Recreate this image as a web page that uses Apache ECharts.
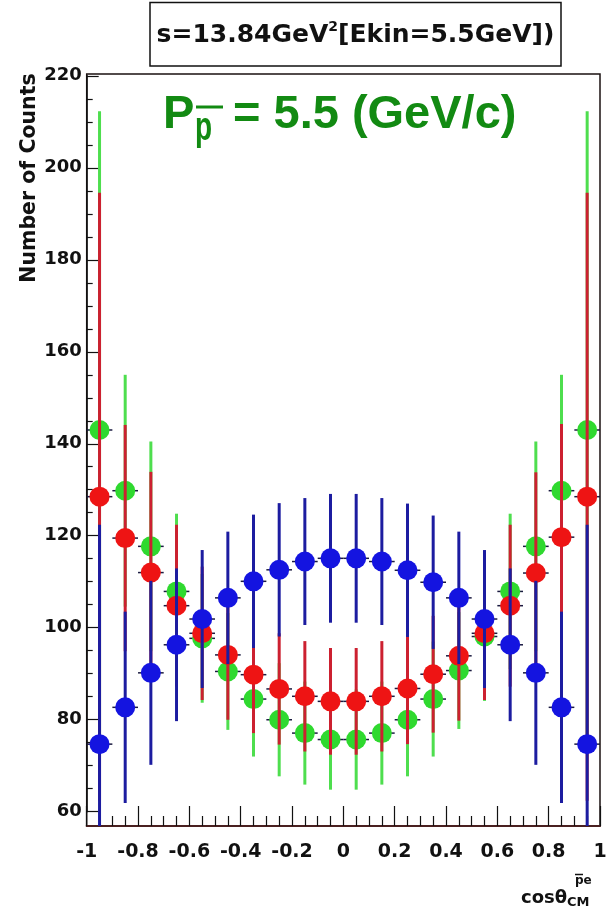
<!DOCTYPE html>
<html>
<head>
<meta charset="utf-8">
<script src="https://cdn.jsdelivr.net/npm/echarts@6/dist/echarts.min.js"></script>
<style>
html,body{margin:0;padding:0;background:#fff;}
#chart{width:610px;height:916px;}
</style>
</head>
<body>
<div id="chart"></div>
<script>
// ---- data ----
const binCenters = [-0.95,-0.85,-0.75,-0.65,-0.55,-0.45,-0.35,-0.25,-0.15,-0.05,
                     0.05, 0.15, 0.25, 0.35, 0.45, 0.55, 0.65, 0.75, 0.85, 0.95];
const greenCounts = [143.0,129.8,117.7,107.9,97.7,90.5,84.5,80.0,77.1,75.7,
                     75.7,77.1,80.0,84.5,90.7,98.1,107.9,117.7,129.8,143.0];
const greenErrors = [69.3,25.2,22.8,16.9,14.0,12.7,12.5,12.3,11.2,10.9,
                     10.9,11.2,12.3,12.5,12.7,14.0,16.9,22.8,25.2,69.3];
const redCounts   = [128.5,119.5,112.0,104.8,98.8,94.1,89.8,86.7,85.1,84.0,
                     84.0,85.1,86.8,89.9,93.9,98.8,104.8,111.9,119.7,128.5];
const redErrors   = [66.1,24.6,21.9,17.6,14.5,14.1,12.7,12.1,12.0,11.6,
                     11.6,12.0,12.1,12.7,14.1,14.5,17.6,21.9,24.6,66.1];
const blueCounts  = [74.7,82.7,90.2,96.3,101.9,106.5,110.1,112.6,114.4,115.1,
                     115.1,114.4,112.5,109.9,106.5,101.9,96.3,90.2,82.7,74.7];
const blueErrors  = [47.7,20.8,20.0,16.6,15.0,14.4,14.5,14.5,13.8,14.0,
                     14.0,13.8,14.5,14.5,14.4,15.0,16.6,20.0,20.8,47.7];
const binHalfWidth = 0.05;
const xTickValues = [-1,-0.8,-0.6,-0.4,-0.2,0,0.2,0.4,0.6,0.8,1];
const yTickValues = [60,80,100,120,140,160,180,200,220];

// ---- chart ----
const chart = echarts.init(document.getElementById('chart'), null, {renderer:'canvas'});
const FONT = 'DejaVu Sans';

function mk(xs, ys, es){ return xs.map((x,i)=>[x, ys[i], es[i]]); }
function makeRender(barColor, markColor){
  return function(params, api){
    const x = api.value(0), y = api.value(1), e = api.value(2);
    const top = api.coord([x, y+e]), bot = api.coord([x, y-e]);
    const c = api.coord([x, y]);
    const l = api.coord([x-binHalfWidth, y]), r = api.coord([x+binHalfWidth, y]);
    return {type:'group', children:[
      {type:'line', shape:{x1:top[0],y1:top[1],x2:bot[0],y2:bot[1]}, style:{stroke:barColor, lineWidth:3}},
      {type:'line', shape:{x1:l[0],y1:l[1],x2:r[0],y2:r[1]}, style:{stroke:'#1a1a40', lineWidth:1.5}},
      {type:'circle', shape:{cx:c[0],cy:c[1],r:10}, style:{fill:markColor}}
    ]};
  };
}

const option = {
  animation:false,
  backgroundColor:'#fff',
  grid:[
    {left:86.7, right:10, top:74, bottom:90, show:true, borderColor:'#1a1010', borderWidth:1.5, backgroundColor:'transparent'},
    {left:86.7, right:10, top:75.8, bottom:104.3, show:false}
  ],
  xAxis:[
    {type:'value', gridIndex:0, min:-1, max:1, interval:0.2,
     axisLine:{show:true, onZero:false, lineStyle:{color:'#4a2020', width:2}},
     axisTick:{show:true, inside:true, length:20, lineStyle:{color:'#111', width:1.2}},
     minorTick:{show:true, splitNumber:4, length:10, lineStyle:{color:'#111', width:1.2}},
     splitLine:{show:false},
     axisLabel:{show:true, margin:17, fontFamily:FONT, fontWeight:'bold', fontSize:19, color:'#111',
       formatter: v => { const r = Math.round(v*10)/10; return xTickValues.includes(r) ? String(r) : ''; }}},
    {type:'value', gridIndex:1, min:-1, max:1, show:false}
  ],
  yAxis:[
    {type:'value', gridIndex:0, min:56.9, max:220.4, show:false, splitLine:{show:false}},
    {type:'value', gridIndex:1, min:60, max:220, interval:20, position:'left',
     axisLine:{show:true, onZero:false, lineStyle:{color:'#111', width:1.5}},
     axisTick:{show:true, inside:true, length:12, lineStyle:{color:'#111', width:1.2}},
     minorTick:{show:true, splitNumber:4, length:6, lineStyle:{color:'#111', width:1.2}},
     splitLine:{show:false},
     axisLabel:{show:true, margin:5, fontFamily:FONT, fontWeight:'bold', fontSize:18, color:'#111',
       formatter: v => yTickValues.includes(Math.round(v)) ? String(Math.round(v)) : ''}}
  ],
  series:[
    {type:'custom', name:'green', xAxisIndex:0, yAxisIndex:0, clip:true,
     renderItem: makeRender('#4ede4e', '#2fd92f'), data: mk(binCenters, greenCounts, greenErrors)},
    {type:'custom', name:'red', xAxisIndex:0, yAxisIndex:0, clip:true,
     renderItem: makeRender('#cc2030', '#ee1414'), data: mk(binCenters, redCounts, redErrors)},
    {type:'custom', name:'blue', xAxisIndex:0, yAxisIndex:0, clip:true,
     renderItem: makeRender('#1c1ca0', '#1414e0'), data: mk(binCenters, blueCounts, blueErrors)}
  ],
  graphic:[
    // title box
    {type:'rect', shape:{x:150, y:2.5, width:411, height:63.5}, style:{fill:'#fff', stroke:'#111', lineWidth:1.5}, z:10},
    {type:'text', x:355.5, y:35, z:11, style:{
      text:'{a|s=13.84GeV}{s|2}{a|[Ekin=5.5GeV])}', align:'center', verticalAlign:'middle',
      rich:{
        a:{fontFamily:FONT, fontWeight:'bold', fontSize:25, fill:'#111', lineHeight:30},
        s:{fontFamily:FONT, fontWeight:'bold', fontSize:14, fill:'#111', verticalAlign:'top', lineHeight:30, padding:[0,0,14,0]}
      }}},
    // y axis title
    {type:'text', x:29.5, y:178, rotation:Math.PI/2, z:11, style:{
      text:'Number of Counts', align:'center', verticalAlign:'middle',
      fontFamily:FONT, fontWeight:'bold', fontSize:20.5, fill:'#111'}},
    // x axis title
    {type:'text', x:521, y:898, z:11, style:{text:'cosθ', align:'left', verticalAlign:'middle',
      fontFamily:FONT, fontWeight:'bold', fontSize:18, fill:'#111'}},
    {type:'text', x:575, y:881, z:11, style:{text:'pe', align:'left', verticalAlign:'middle',
      fontFamily:FONT, fontWeight:'bold', fontSize:12, fill:'#111'}},
    {type:'line', z:11, shape:{x1:575, y1:874.5, x2:583, y2:874.5}, style:{stroke:'#111', lineWidth:1.5}},
    {type:'text', x:567, y:903, z:11, style:{text:'CM', align:'left', verticalAlign:'middle',
      fontFamily:FONT, fontWeight:'bold', fontSize:13, fill:'#111'}},
    // green annotation
    {type:'text', x:163, y:115, z:11, style:{text:'P', align:'left', verticalAlign:'middle',
      fontFamily:'Liberation Sans', fontWeight:'bold', fontSize:47, fill:'#128a12'}},
    {type:'text', x:195, y:129, scaleY:1.45, z:11, style:{text:'p', align:'left', verticalAlign:'middle',
      fontFamily:'Liberation Sans', fontWeight:'bold', fontSize:28, fill:'#128a12'}},
    {type:'line', z:11, shape:{x1:196, y1:107, x2:223, y2:107}, style:{stroke:'#128a12', lineWidth:3}},
    {type:'text', x:233, y:115, z:11, style:{text:'= 5.5 (GeV/c)', align:'left', verticalAlign:'middle',
      fontFamily:'Liberation Sans', fontWeight:'bold', fontSize:47, fill:'#128a12'}}
  ]
};
chart.setOption(option);
</script>
</body>
</html>
